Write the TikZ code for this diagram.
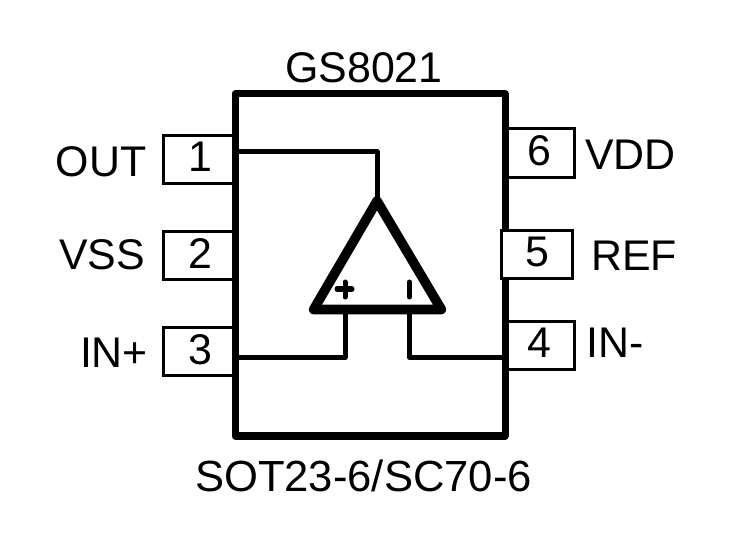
\documentclass[tikz,border=0pt]{standalone}
\usepackage{fontspec}
\setmainfont{Liberation Sans}
\usetikzlibrary{positioning}
\tikzset{
  pinbox/.style={draw=black,fill=white,line width=0.75mm,minimum width=1.8cm,minimum height=1.22cm,inner sep=0pt,text depth=3.5pt,font=\fontsize{30.5}{30.5}\selectfont},
  pinlabel/.style={font=\fontsize{30.5}{30.5}\selectfont,inner sep=0pt},
  wire/.style={line width=1.25mm,line cap=round,line join=round}
}
\begin{document}
\begin{tikzpicture}[x=0.025cm,y=-0.025cm]
\useasboundingbox (0,0) rectangle (738,538);
% pins
\node[pinbox] (p1) at (200,159.5) {1};
\node[pinbox] (p2) at (200,255.5) {2};
\node[pinbox] (p3) at (200,351.5) {3};
\node[pinbox,minimum width=1.75cm] (p6) at (539,153) {6};
\node[pinbox,minimum width=1.75cm] (p4) at (539,345.5) {4};
% package
\draw[line width=1.75mm,line join=round] (235,94) rectangle (505,436);
% this one sits over the package edge
\node[pinbox,minimum width=1.75cm] (p5) at (537,254.5) {5};
\node[pinlabel] (title) at (364,68) {GS8021};
\node[pinlabel,font=\fontsize{31}{31}\selectfont] (pkg) at (363.5,476) {SOT23-6/SC70-6};
% labels
\node[pinlabel] (lout) at (101,161.5) {OUT};
\node[pinlabel] (lvss) at (102,254.5) {VSS};
\node[pinlabel] (linp) at (114,353) {IN+};
\node[pinlabel] (lvdd) at (630.5,155) {VDD};
\node[pinlabel] (lref) at (634,255.5) {REF};
\node[pinlabel] (linm) at (615,343) {IN-};
% opamp
\coordinate (top) at (377,201);
\coordinate (inp) at (345,310);
\coordinate (inm) at (409.5,310);
\draw[line width=2.4mm,line join=round] (top) -- (441.4,309.5) -- (313.6,309.5) -- cycle;
\draw[wire] (337,289) -- (352,289) (345,282) -- (345,297);
\draw[wire] (409.5,282) -- (409.5,297);
% wires
\coordinate (w1) at (235,152);
\coordinate (w3) at (235,357.5);
\coordinate (w4) at (505,357.5);
\draw[wire] (w1) -| (top);
\draw[wire] (w3) -| (inp);
\draw[wire] (w4) -| (inm);
\end{tikzpicture}
\end{document}
